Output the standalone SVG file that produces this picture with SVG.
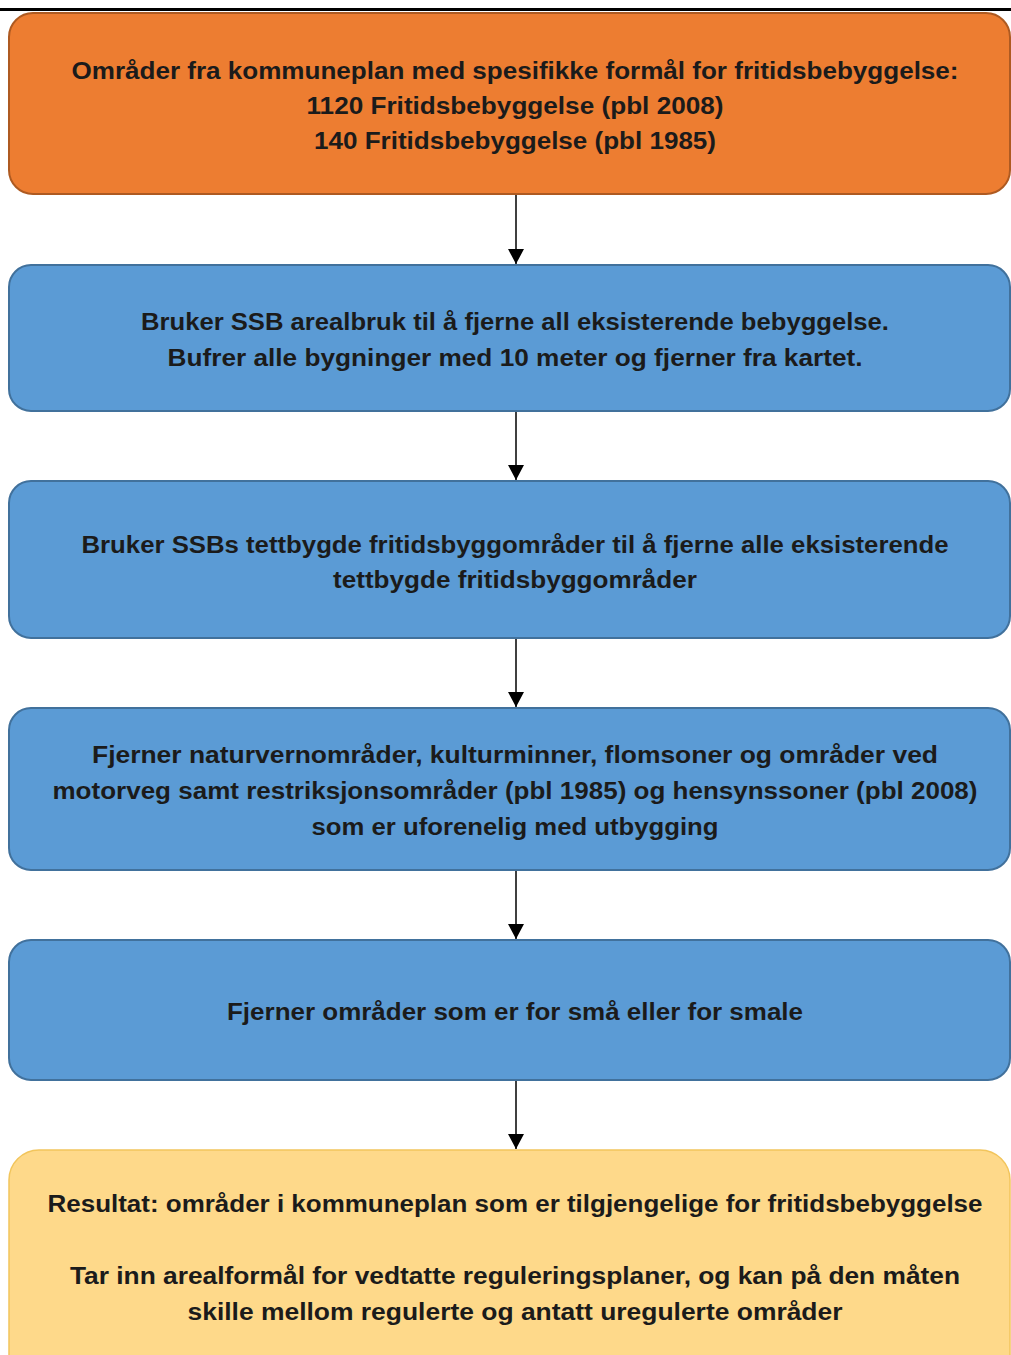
<svg xmlns="http://www.w3.org/2000/svg" width="1011" height="1355" viewBox="0 0 1011 1355">
<style>
.t{font-family:"Liberation Sans",Arial,sans-serif;font-weight:bold;font-size:23.5px;fill:#1b1b1b;text-anchor:middle}
.o{fill:#ED7D31;stroke:#AE5A21;stroke-width:2}
.b{fill:#5B9BD5;stroke:#41719C;stroke-width:2}
.y{fill:#FED98A;stroke:#F2C55C;stroke-width:1.5}
.c{stroke:#000;stroke-width:1.5;fill:none;marker-end:url(#ah2)}
</style>
<defs>
<marker id="ah2" viewBox="0 0 16 16" refX="15" refY="8" markerWidth="16" markerHeight="16" markerUnits="userSpaceOnUse" orient="auto">
<path d="M0,0 L15,8 L0,16 z" fill="#000"/>
</marker>
</defs>
<rect width="1011" height="1355" fill="#fff"/>
<line x1="0" y1="9.5" x2="1011" y2="9.5" stroke="#000" stroke-width="3"/>
<g id="connectors">
<line class="c" x1="516" y1="195" x2="516" y2="264"/>
<line class="c" x1="516" y1="412" x2="516" y2="480"/>
<line class="c" x1="516" y1="639" x2="516" y2="707"/>
<line class="c" x1="516" y1="871" x2="516" y2="939"/>
<line class="c" x1="516" y1="1081" x2="516" y2="1149"/>
</g>
<g id="n1">
<rect class="o" x="9" y="13" width="1001" height="181" rx="24"/>
<text class="t" x="515" y="79" textLength="887" lengthAdjust="spacingAndGlyphs">Områder fra kommuneplan med spesifikke formål for fritidsbebyggelse:</text>
<text class="t" x="515" y="114" textLength="417" lengthAdjust="spacingAndGlyphs">1120 Fritidsbebyggelse (pbl 2008)</text>
<text class="t" x="515" y="149" textLength="402" lengthAdjust="spacingAndGlyphs">140 Fritidsbebyggelse (pbl 1985)</text>
</g>
<g id="n2">
<rect class="b" x="9" y="265" width="1001" height="146" rx="22"/>
<text class="t" x="515" y="330" textLength="748" lengthAdjust="spacingAndGlyphs">Bruker SSB arealbruk til å fjerne all eksisterende bebyggelse.</text>
<text class="t" x="515" y="366" textLength="695" lengthAdjust="spacingAndGlyphs">Bufrer alle bygninger med 10 meter og fjerner fra kartet.</text>
</g>
<g id="n3">
<rect class="b" x="9" y="481" width="1001" height="157" rx="22"/>
<text class="t" x="515" y="553" textLength="867" lengthAdjust="spacingAndGlyphs">Bruker SSBs tettbygde fritidsbyggområder til å fjerne alle eksisterende</text>
<text class="t" x="515" y="588" textLength="364" lengthAdjust="spacingAndGlyphs">tettbygde fritidsbyggområder</text>
</g>
<g id="n4">
<rect class="b" x="9" y="708" width="1001" height="162" rx="22"/>
<text class="t" x="515" y="763" textLength="846" lengthAdjust="spacingAndGlyphs">Fjerner naturvernområder, kulturminner, flomsoner og områder ved</text>
<text class="t" x="515" y="799" textLength="925" lengthAdjust="spacingAndGlyphs">motorveg samt restriksjonsområder (pbl 1985) og hensynssoner (pbl 2008)</text>
<text class="t" x="515" y="835" textLength="407" lengthAdjust="spacingAndGlyphs">som er uforenelig med utbygging</text>
</g>
<g id="n5">
<rect class="b" x="9" y="940" width="1001" height="140" rx="22"/>
<text class="t" x="515" y="1020" textLength="576" lengthAdjust="spacingAndGlyphs">Fjerner områder som er for små eller for smale</text>
</g>
<g id="n6">
<rect class="y" x="9" y="1150" width="1001" height="240" rx="30"/>
<text class="t" x="515" y="1212" textLength="935" lengthAdjust="spacingAndGlyphs">Resultat: områder i kommuneplan som er tilgjengelige for fritidsbebyggelse</text>
<text class="t" x="515" y="1284" textLength="890" lengthAdjust="spacingAndGlyphs">Tar inn arealformål for vedtatte reguleringsplaner, og kan på den måten</text>
<text class="t" x="515" y="1320" textLength="655" lengthAdjust="spacingAndGlyphs">skille mellom regulerte og antatt uregulerte områder</text>
</g>
</svg>
